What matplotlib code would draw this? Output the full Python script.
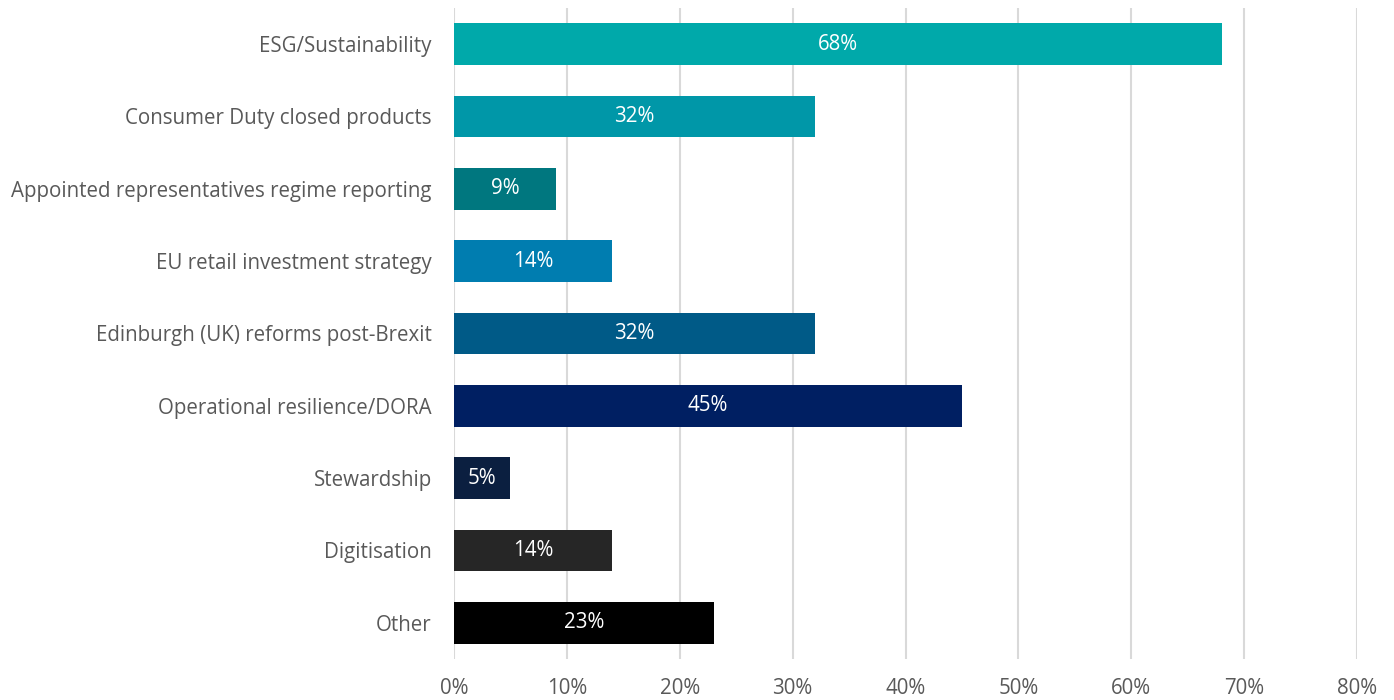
import matplotlib
matplotlib.use("Agg")
import matplotlib.pyplot as plt
from matplotlib.ticker import FuncFormatter, MultipleLocator

categories = [
    "ESG/Sustainability",
    "Consumer Duty closed products",
    "Appointed representatives regime reporting",
    "EU retail investment strategy",
    "Edinburgh (UK) reforms post-Brexit",
    "Operational resilience/DORA",
    "Stewardship",
    "Digitisation",
    "Other",
]
values = [68, 32, 9, 14, 32, 45, 5, 14, 23]
colors = [
    "#00A9AA", "#0097A8", "#00777F", "#007DB0", "#005A87",
    "#001F62", "#0B1F40", "#262626", "#000000",
]

plt.rcParams["font.family"] = ["Open Sans", "DejaVu Sans"]

fig = plt.figure(figsize=(13.94, 7.0), dpi=100)
ax = fig.add_axes([0.3257, 0.0586, 0.6478, 0.93])

pos = list(range(len(categories)))
ax.barh(pos, values, height=0.58, color=colors, zorder=3)

for y, v in zip(pos, values):
    ax.text(v / 2, y, f"{v}%", ha="center", va="center",
            color="white", fontsize=14.8, zorder=4)

ax.set_xlim(0, 80)
ax.set_ylim(len(categories) - 0.5, -0.5)
ax.set_yticks(pos)
ax.set_yticklabels(categories)
ax.xaxis.set_major_locator(MultipleLocator(10))
ax.xaxis.set_major_formatter(FuncFormatter(lambda x, _: f"{x:.0f}%"))

ax.grid(axis="x", color="#D9D9D9", linewidth=1.5, zorder=0)
for s in ax.spines.values():
    s.set_visible(False)
ax.tick_params(axis="both", length=0, labelsize=14.8, colors="#595959")
ax.tick_params(axis="y", pad=16)
ax.tick_params(axis="x", pad=14)

fig.savefig("out.png", dpi=100)
